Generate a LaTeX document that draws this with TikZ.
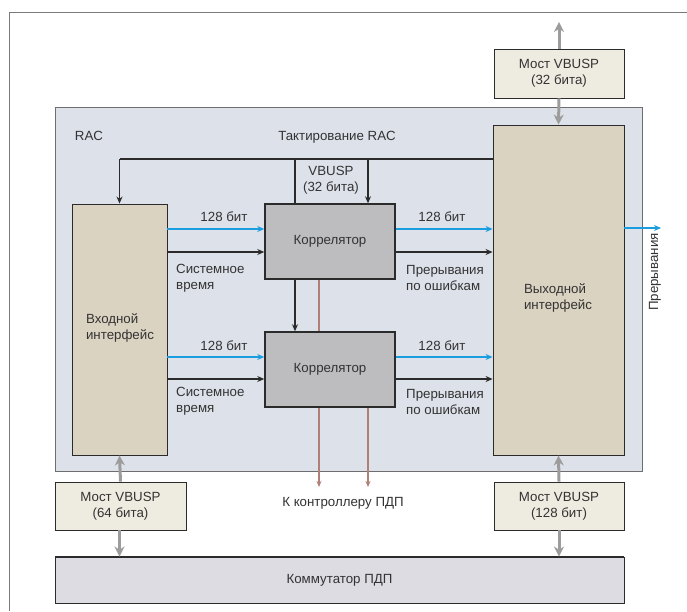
\documentclass[tikz,border=0pt]{standalone}
\usepackage{fontspec}
\setmainfont{Liberation Sans}
\usetikzlibrary{arrows.meta}
\definecolor{racfill}{HTML}{DDE1E9}
\definecolor{racline}{HTML}{6E6E6E}
\definecolor{iffill}{HTML}{DBD3C1}
\definecolor{corfill}{HTML}{BDBDBF}
\definecolor{brfill}{HTML}{EEEBE0}
\definecolor{swfill}{HTML}{DCDCE2}
\definecolor{edge}{HTML}{2B2B2B}
\definecolor{txt}{HTML}{333333}
\definecolor{garrow}{HTML}{9C9C9C}
\definecolor{barrow}{HTML}{1A9EE0}
\definecolor{brarrow}{HTML}{B08078}
\definecolor{framegray}{HTML}{7A7A7A}
\tikzset{
  box/.style={draw=edge, line width=0.9pt, minimum width=#1, inner sep=0pt, text=txt, align=center},
  lbl/.style={text=txt, inner sep=0pt},
  grayarr/.style={draw=garrow, line width=3pt, -{Stealth[length=10pt,width=10pt]}},
  bluearr/.style={draw=barrow, line width=1.1pt, -{Stealth[length=7pt,width=6pt]}},
  blkarr/.style={draw=edge, line width=1.1pt, -{Stealth[length=7pt,width=6pt]}},
  blkline/.style={draw=edge, line width=1.1pt},
  brline/.style={draw=brarrow, line width=1.2pt},
  brarr/.style={draw=brarrow, line width=1.2pt, -{Stealth[length=6pt,width=5pt]}}
}
\begin{document}
\begin{tikzpicture}[x=1pt,y=-1pt, font=\fontsize{13.3}{16}\selectfont]
\useasboundingbox (0,0) rectangle (687,611);
\fill[white] (0,0) rectangle (687,611);
\draw[framegray, line width=1pt] (687,12) -- (9.5,12) -- (9.5,611);

% RAC container
\node[draw=racline, fill=racfill, line width=1pt, minimum width=587pt, minimum height=364pt, inner sep=0pt] (rac) at (348.5,289) {};
\node[lbl] (raclbl) at (89,136) {RAC};
\node[lbl] (clklbl) at (337,137) {Тактирование RAC};

% main blocks
\node[box=95pt, fill=iffill, minimum height=251pt] (in) at (119.5,329.5) {};
\node[lbl, align=left] (intxt) at (120,327.5) {Входной\\интерфейс};
\node[box=131pt, fill=iffill, minimum height=330pt] (out) at (558.5,290) {};
\node[lbl, align=left] (outtxt) at (558,297.5) {Выходной\\интерфейс};
\node[box=130pt, fill=corfill, minimum height=75pt, line width=1.5pt] (cor1) at (330,241.5) {Коррелятор};
\node[box=130pt, fill=corfill, minimum height=75pt, line width=1.5pt] (cor2) at (330,369.5) {Коррелятор};

% bridges
\node[box=130pt, fill=brfill, minimum height=49pt] (bt) at (559,73.5) {Мост VBUSP\\(32 бита)};
\node[box=131pt, fill=brfill, minimum height=48pt] (bl) at (120.5,506) {Мост VBUSP\\(64 бита)};
\node[box=130pt, fill=brfill, minimum height=48pt] (br) at (559,506) {Мост VBUSP\\(128 бит)};
\node[box=569pt, fill=swfill, minimum height=46pt] (sw) at (339.5,580) {Коммутатор ПДП};
\draw[edge, line width=1.8pt] (bt.south west) -- (bt.south east);
\draw[edge, line width=1.8pt] (bl.south west) -- (bl.south east);
\draw[edge, line width=1.8pt] (br.south west) -- (br.south east);
\draw[edge, line width=2pt] (sw.north west) -- (sw.north east);

% gray bus arrows
\coordinate (topend) at (559,22);
\draw[grayarr] (bt.north) -- (topend);
\draw[grayarr] (bt.south) -- (out.north);
\draw[grayarr] (bl.north) -- (in.south);
\draw[grayarr] (bl.south -| in.south) -- (sw.north -| in.south);
\draw[grayarr] (br.north) -- (out.south);
\draw[grayarr] (br.south) -- (sw.north -| br.south);

% clock distribution
\coordinate (clk) at (0,159);
\coordinate (v1) at (295,159);
\coordinate (v2) at (368,159);
\draw[blkline] (out.west |- clk) -- (in.north |- clk);
\draw[blkarr] (in.north |- clk) -- (in.north);
\draw[blkline] (v1) -- (v1 |- cor1.north);
\draw[blkarr] (v1 |- cor1.south) -- (v1 |- cor2.north);
\draw[blkarr] (v2) -- (v2 |- cor1.north);
\node[lbl, align=center] (vbusp) at (331,180.5) {VBUSP\\(32 бита)};

% data paths
\coordinate (ya1) at (0,229);
\coordinate (yb1) at (0,252);
\coordinate (ya2) at (0,357);
\coordinate (yb2) at (0,379);
\draw[bluearr] (in.east |- ya1) -- (cor1.west |- ya1);
\draw[blkarr] (in.east |- yb1) -- (cor1.west |- yb1);
\draw[bluearr] (cor1.east |- ya1) -- (out.west |- ya1);
\draw[blkarr] (cor1.east |- yb1) -- (out.west |- yb1);
\draw[bluearr] (in.east |- ya2) -- (cor2.west |- ya2);
\draw[blkarr] (in.east |- yb2) -- (cor2.west |- yb2);
\draw[bluearr] (cor2.east |- ya2) -- (out.west |- ya2);
\draw[blkarr] (cor2.east |- yb2) -- (out.west |- yb2);

\node[lbl] (l1) at (224,217) {128 бит};
\node[lbl] (l2) at (442,217) {128 бит};
\node[lbl] (l3) at (224,346) {128 бит};
\node[lbl] (l4) at (442,346) {128 бит};
\node[lbl, anchor=west, align=left] (s1) at (176,278) {Системное\\время};
\node[lbl, anchor=west, align=left] (s2) at (176,401.5) {Системное\\время};
\node[lbl, anchor=west, align=left] (p1) at (406,278) {Прерывания\\по ошибкам};
\node[lbl, anchor=west, align=left] (p2) at (406,401.5) {Прерывания\\по ошибкам};

% interrupts out
\coordinate (irq) at (661,228);
\draw[bluearr] (out.east |- irq) -- (irq);
\node[lbl, rotate=90] (irqlbl) at (655,272) {Прерывания};

% DMA lines
\coordinate (d1) at (319,487);
\coordinate (d2) at (368,487);
\draw[brline] (d1 |- cor1.south) -- (d1 |- cor2.north);
\draw[brarr] (d1 |- cor2.south) -- (d1);
\draw[brarr] (d2 |- cor2.south) -- (d2);
\node[lbl] (dma) at (343,503) {К контроллеру ПДП};
\end{tikzpicture}
\end{document}
